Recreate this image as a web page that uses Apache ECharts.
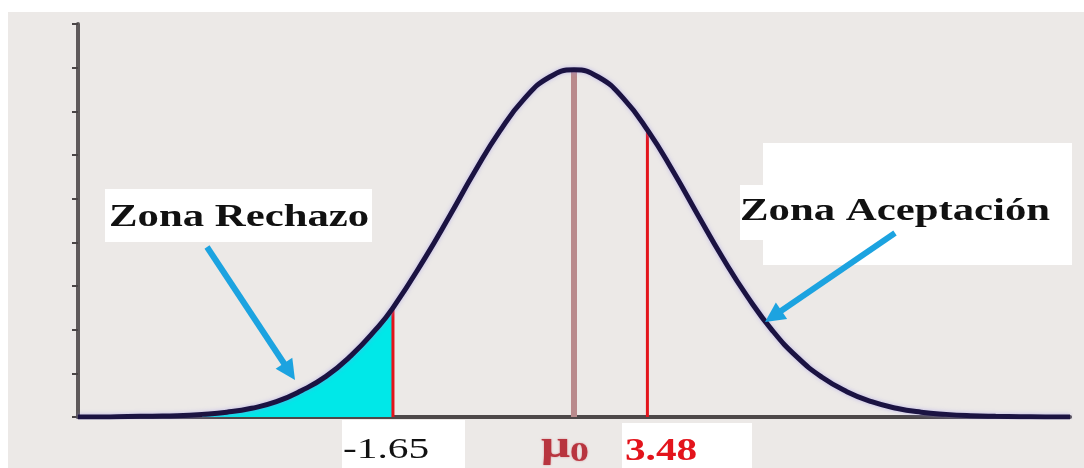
<!DOCTYPE html>
<html>
<head>
<meta charset="utf-8">
<script src="https://cdn.jsdelivr.net/npm/echarts@6/dist/echarts.min.js"></script>
<style>
  html, body { margin: 0; padding: 0; background: #ffffff; }
  #chart { width: 1084px; height: 468px; }
</style>
</head>
<body>
<div id="chart"></div>
<script>
// Bell curve of the test statistic: x positions and curve heights
const curveX = [-8, -7.5, -7, -6.5, -6, -5.5, -5, -4.5, -4, -3.5, -3, -2.5, -2, -1.65, -1, -0.5,
                0, 0.5, 1, 1.5, 2, 2.5, 3, 3.5, 4, 4.5, 5, 5.5, 6, 6.5, 7, 7.5, 8, 8.5, 9, 9.5,
                10, 10.5, 11, 11.5, 12];
const curveY = [0, 0, 0.01, 0.02, 0.03, 0.06, 0.11, 0.2, 0.35, 0.6, 0.93, 1.4, 2.0, 2.5, 3.65, 4.62,
                5.62, 6.54, 7.29, 7.78, 7.95, 7.78, 7.29, 6.54, 5.62, 4.62, 3.64, 2.75, 1.98, 1.37, 0.91, 0.58,
                0.35, 0.2, 0.11, 0.06, 0.03, 0.015, 0.007, 0, 0];

// Critical value and observed statistic (red verticals) and their heights on the curve
const criticalX = [-1.65, 3.48];
const criticalTop = [2.5, 6.56];
const criticalLabels = ['-1.65', '3.48'];

// Hypothesised mean
const meanX = 2.0;
const meanTop = 7.95;
const meanLabel = ['μ', '0'];

const zoneLabels = ['Zona Rechazo', 'Zona Aceptación'];

const SERIF = '"Liberation Serif", "DejaVu Serif", serif';
const ARROW_BLUE = '#1ca3e0';

const curveData = curveX.map((x, i) => [x, curveY[i]]);
const rejectData = curveData.filter(p => p[0] <= criticalX[0]);

// Straight arrow with a triangular head, in pixels
function arrow(x1, y1, x2, y2) {
  const dx = x2 - x1, dy = y2 - y1;
  const len = Math.sqrt(dx * dx + dy * dy);
  const ux = dx / len, uy = dy / len;
  const headLen = 20, headHalf = 10;
  const bx = x2 - ux * headLen, by = y2 - uy * headLen;
  return [
    { type: 'line', z: 120,
      shape: { x1: x1, y1: y1, x2: bx + ux * 2, y2: by + uy * 2 },
      style: { stroke: ARROW_BLUE, lineWidth: 6, lineCap: 'butt' } },
    { type: 'polygon', z: 120,
      shape: { points: [[x2, y2], [bx - uy * headHalf, by + ux * headHalf], [bx + uy * headHalf, by - ux * headHalf]] },
      style: { fill: ARROW_BLUE } }
  ];
}

function label(text, x, y, font, fill, scaleX) {
  return {
    type: 'text', x: x, y: y, scaleX: scaleX, z: 110,
    style: { text: text, font: font, fill: fill,
             align: 'left', verticalAlign: 'middle',
             textAlign: 'left', textVerticalAlign: 'middle' }
  };
}

function box(x, y, w, h) {
  return { type: 'rect', z: 100, shape: { x: x, y: y, width: w, height: h }, style: { fill: '#ffffff' } };
}

const chart = echarts.init(document.getElementById('chart'), null, { renderer: 'canvas' });

chart.setOption({
  animation: false,
  backgroundColor: '#ffffff',
  grid: { left: 78, right: 14, top: 24, bottom: 51 },
  xAxis: {
    type: 'value', min: -8, max: 12,
    axisLine: { show: true, onZero: false, lineStyle: { color: '#4d4849', width: 4 } },
    axisTick: { show: false },
    axisLabel: { show: false },
    splitLine: { show: false }
  },
  yAxis: {
    type: 'value', min: 0, max: 9, interval: 1,
    axisLine: { show: true, onZero: false, lineStyle: { color: '#5e595a', width: 4 } },
    axisTick: { show: true, inside: false, length: 6, lineStyle: { color: '#4a4546', width: 2 } },
    axisLabel: { show: false },
    splitLine: { show: false }
  },
  series: [
    {
      // rejection region under the left tail
      type: 'line', data: rejectData, smooth: true, showSymbol: false, z: 3,
      lineStyle: { width: 0 },
      areaStyle: { color: '#00e8e8', opacity: 1 }
    },
    {
      // mean line
      type: 'line', data: [[meanX, 0], [meanX, meanTop]], showSymbol: false, z: 4,
      lineStyle: { color: '#b98a8c', width: 6 }
    },
    {
      type: 'line', data: [[criticalX[0], 0], [criticalX[0], criticalTop[0]]], showSymbol: false, z: 4,
      lineStyle: { color: '#e3141c', width: 3 }
    },
    {
      type: 'line', data: [[criticalX[1], 0], [criticalX[1], criticalTop[1]]], showSymbol: false, z: 4,
      lineStyle: { color: '#e3141c', width: 3 }
    },
    {
      // the bell curve
      type: 'line', data: curveData, smooth: true, showSymbol: false, z: 5,
      lineStyle: { color: '#1b1342', width: 5, shadowColor: 'rgba(150,140,235,0.55)', shadowBlur: 4 }
    }
  ],
  graphic: {
    elements: [
      { type: 'rect', z: -10, silent: true, shape: { x: 8, y: 12, width: 1076, height: 456 }, style: { fill: '#ece9e7' } },

      box(105, 189, 267, 53),
      label(zoneLabels[0], 109, 218, 'bold 31px ' + SERIF, '#111111', 1.38),

      box(763, 143, 309, 122),
      box(740, 185, 30, 55),
      label(zoneLabels[1], 740, 212, 'bold 31px ' + SERIF, '#111111', 1.38),

      box(342, 420, 123, 48),
      label(criticalLabels[0], 343, 450, '30px ' + SERIF, '#111111', 1.38),

      box(622, 423, 130, 45),
      label(criticalLabels[1], 625, 452, 'bold 31px ' + SERIF, '#e3141c', 1.33),

      {
        type: 'text', x: 541, y: 447, scaleX: 1.35, z: 110,
        style: {
          text: '{m|' + meanLabel[0] + '}{s|' + meanLabel[1] + '}',
          textShadowColor: 'rgba(200,60,70,0.5)', textShadowBlur: 2,
          rich: {
            m: { font: 'bold 38px ' + SERIF, fill: '#b8353f', color: '#b8353f' },
            s: { font: 'bold 28px ' + SERIF, fill: '#b8353f', color: '#b8353f', padding: [14, 0, 0, 0] }
          },
          align: 'left', verticalAlign: 'middle', textAlign: 'left', textVerticalAlign: 'middle'
        }
      }
    ].concat(arrow(207, 247, 295, 380)).concat(arrow(895, 233, 765, 322))
  }
});
</script>
</body>
</html>
